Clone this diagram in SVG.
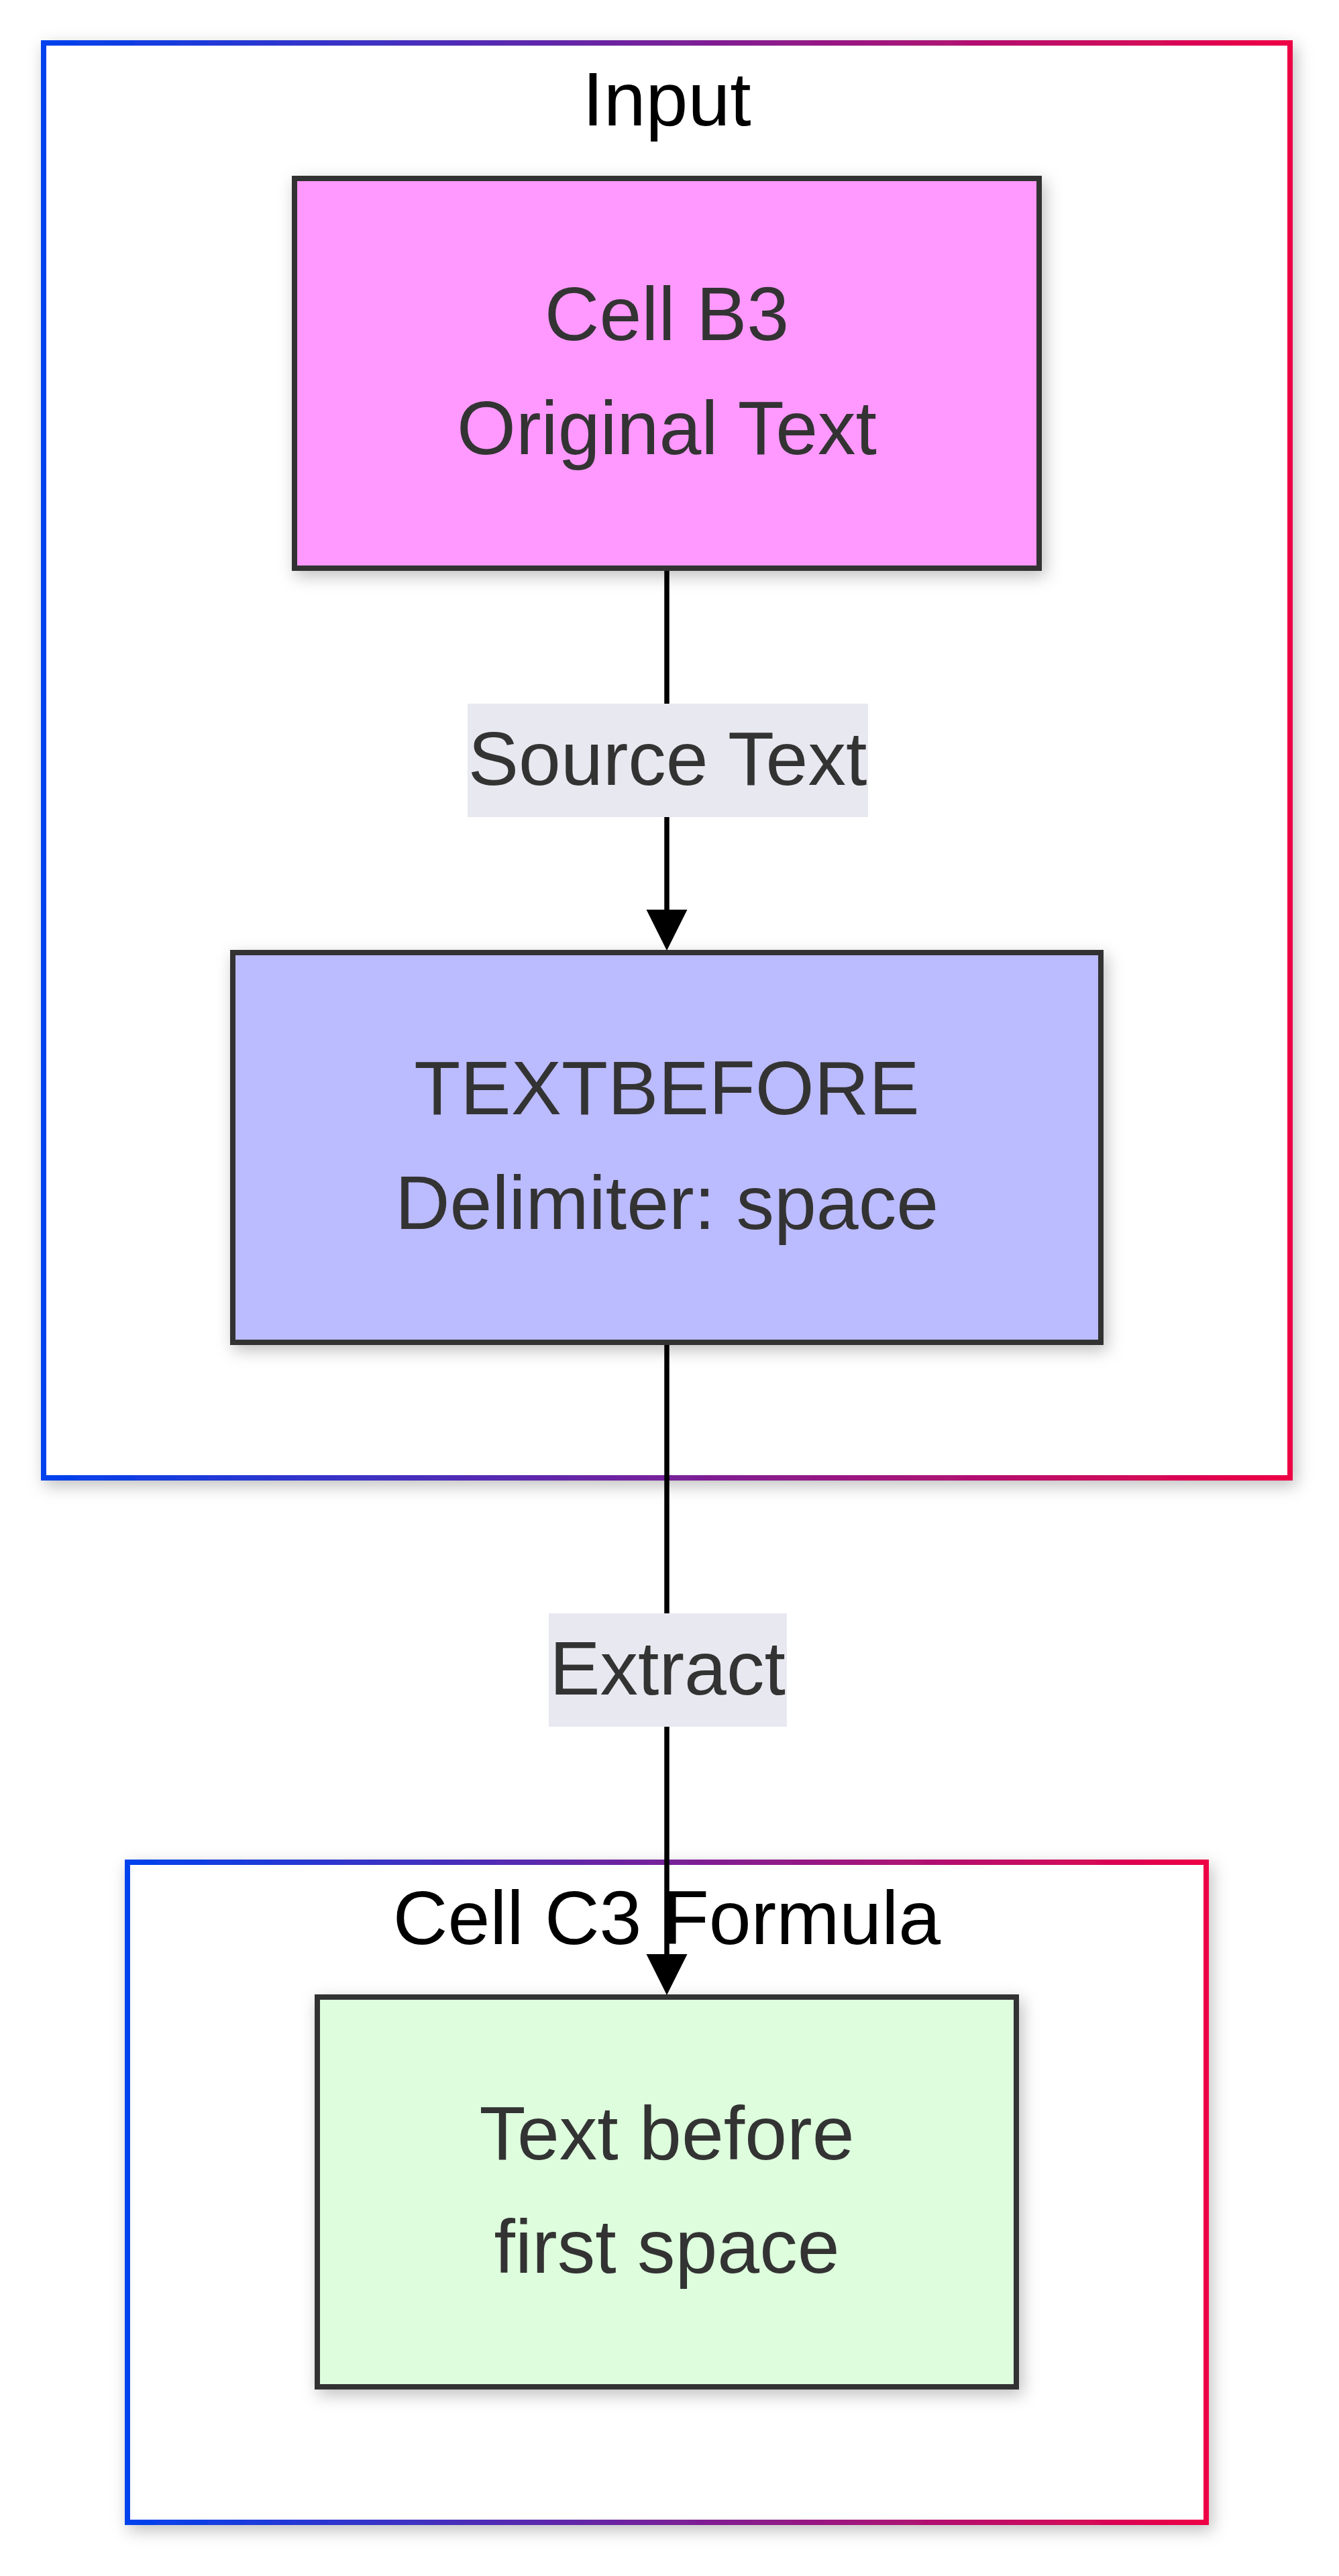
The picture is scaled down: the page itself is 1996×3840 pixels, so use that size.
<svg xmlns="http://www.w3.org/2000/svg" width="1996" height="3840" viewBox="0 0 1996 3840">
  <style>
    .cluster { fill: #ffffff; stroke: url(#clusterGrad); stroke-width: 8; filter: url(#shadow); }
    .ctitle { font-family: "Liberation Sans", Arial, sans-serif; font-size: 113px; fill: #000000; text-anchor: middle; }
    .node rect { stroke: #333333; stroke-width: 8; filter: url(#shadow); }
    .ntext { font-family: "Liberation Sans", Arial, sans-serif; font-size: 113px; fill: #333333; text-anchor: middle; }
    .edge { stroke: #000000; stroke-width: 7.5; fill: none; marker-end: url(#arrow); }
    .elabel rect { fill: #e8e8f0; }
  </style>
  <defs>
    <linearGradient id="clusterGrad" x1="0" y1="0" x2="1" y2="0">
      <stop offset="0" stop-color="#0042ee"/>
      <stop offset="1" stop-color="#ee0045"/>
    </linearGradient>
    <filter id="shadow" x="-20%" y="-20%" width="140%" height="140%">
      <feDropShadow dx="5" dy="8" stdDeviation="12" flood-color="#000000" flood-opacity="0.25"/>
    </filter>
    <marker id="arrow" viewBox="0 0 10 10" refX="0" refY="5" markerUnits="userSpaceOnUse" markerWidth="61" markerHeight="65" orient="auto">
      <path d="M0,0 L10,5 L0,10 z" fill="#000000"/>
    </marker>
  </defs>
  <rect x="0" y="0" width="1996" height="3840" fill="#ffffff"/>

  <g id="cluster-input">
    <rect class="cluster" x="65" y="64" width="1858" height="2139"/>
    <text class="ctitle" x="994" y="187">Input</text>
  </g>
  <g id="cluster-c3">
    <rect class="cluster" x="190" y="2776" width="1608" height="984"/>
    <text class="ctitle" x="994" y="2898">Cell C3 Formula</text>
  </g>

  <g id="node-b3" class="node">
    <rect x="439" y="266" width="1110" height="581" fill="#ff99ff"/>
    <text class="ntext" x="994" y="507">Cell B3</text>
    <text class="ntext" x="994" y="677">Original Text</text>
  </g>
  <g id="node-textbefore" class="node">
    <rect x="347" y="1420" width="1294" height="581" fill="#bbbbff"/>
    <text class="ntext" x="994" y="1661">TEXTBEFORE</text>
    <text class="ntext" x="994" y="1832">Delimiter: space</text>
  </g>
  <g id="node-result" class="node">
    <rect x="473" y="2977" width="1042" height="581" fill="#ddfddd"/>
    <text class="ntext" x="994" y="3219">Text before</text>
    <text class="ntext" x="994" y="3388">first space</text>
  </g>

  <g id="connectors">
    <line class="edge" x1="994" y1="851" x2="994" y2="1356"/>
    <line class="edge" x1="994" y1="2005" x2="994" y2="2913"/>
    <g class="elabel">
      <rect x="697" y="1049" width="597" height="169"/>
      <text class="ntext" x="995" y="1170">Source Text</text>
    </g>
    <g class="elabel">
      <rect x="818" y="2405" width="355" height="169"/>
      <text class="ntext" x="995" y="2526">Extract</text>
    </g>
  </g>
</svg>
